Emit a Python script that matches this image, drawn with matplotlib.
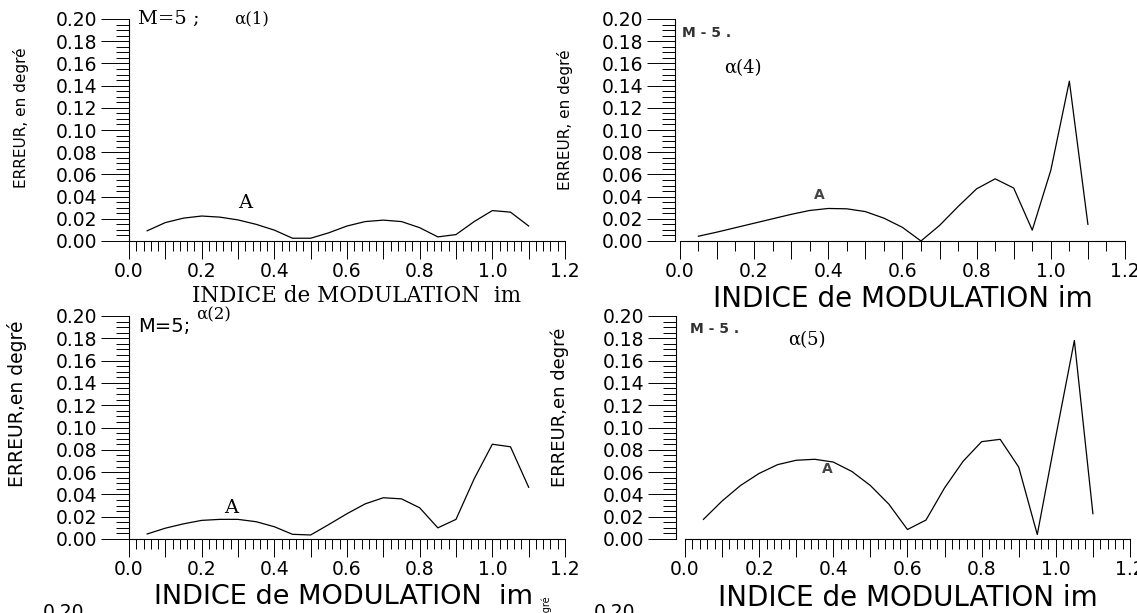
import matplotlib
matplotlib.use('Agg')
import matplotlib.pyplot as plt
from matplotlib.ticker import FixedLocator, MultipleLocator, FuncFormatter
import numpy as np

# indice de modulation (abscisses communes aux quatre courbes)
im = [0.05, 0.10, 0.15, 0.20, 0.25, 0.30, 0.35, 0.40, 0.45, 0.50, 0.55,
      0.60, 0.65, 0.70, 0.75, 0.80, 0.85, 0.90, 0.95, 1.00, 1.05, 1.10]

# erreur en degre pour chaque angle alpha(k), M=5
err_a1 = [0.0092, 0.0166, 0.0206, 0.0225, 0.0215, 0.0190, 0.0150, 0.0098, 0.0025, 0.0025, 0.0074,
          0.0135, 0.0175, 0.0188, 0.0175, 0.0120, 0.0037, 0.0058, 0.0175, 0.0274, 0.0260, 0.0135]
err_a4 = [0.0043, 0.0080, 0.0120, 0.0160, 0.0200, 0.0240, 0.0275, 0.0293, 0.0290, 0.0265, 0.0206,
          0.0123, 0.0000, 0.0140, 0.0310, 0.0470, 0.0560, 0.0477, 0.0098, 0.0637, 0.1440, 0.0150]
err_a2 = [0.0045, 0.0097, 0.0136, 0.0167, 0.0176, 0.0176, 0.0155, 0.0110, 0.0042, 0.0036, 0.0130,
          0.0227, 0.0315, 0.0370, 0.0360, 0.0280, 0.0100, 0.0176, 0.0540, 0.0850, 0.0827, 0.0464]
err_a5 = [0.0176, 0.0340, 0.0480, 0.0588, 0.0667, 0.0706, 0.0715, 0.0690, 0.0606, 0.0480, 0.0312,
          0.0085, 0.0170, 0.0458, 0.0697, 0.0873, 0.0894, 0.0645, 0.0040, 0.0920, 0.1780, 0.0227]

W, H = 1137, 613
fig = plt.figure(figsize=(W / 100, H / 100), dpi=100)


def rect(l, r, t, b):
    return [l / W, 1 - b / H, (r - l) / W, (b - t) / H]


def fx(x):
    return x / W


def fy(y):
    return 1 - y / H


def setup(ax, x0, minor_step):
    ax.set_xlim(x0, 1.2)
    ax.set_ylim(0, 0.2)
    ax.patch.set_visible(False)
    ax.spines['top'].set_visible(False)
    ax.spines['right'].set_visible(False)
    ax.spines['left'].set_bounds(0, 0.2)
    ax.spines['bottom'].set_bounds(0, 1.2)
    ax.spines['left'].set_linewidth(0.8)
    ax.spines['bottom'].set_linewidth(0.8)
    ax.xaxis.set_major_locator(FixedLocator(np.round(np.arange(0, 1.21, 0.1), 2)))
    ax.xaxis.set_minor_locator(FixedLocator(np.round(np.arange(0, 1.201, minor_step), 3)))
    ax.xaxis.set_major_formatter(FuncFormatter(
        lambda v, p: f'{v:.1f}' if round(v * 10) % 2 == 0 else ''))
    ax.yaxis.set_major_locator(MultipleLocator(0.02))
    ax.yaxis.set_minor_locator(MultipleLocator(0.005))
    ax.yaxis.set_major_formatter(FuncFormatter(lambda v, p: f'{v:.2f}'))
    ax.tick_params(axis='y', which='major', direction='out', length=20, width=0.7,
                   pad=3, labelsize=13.5)
    ax.tick_params(axis='y', which='minor', direction='out', length=9.5, width=0.7)
    ax.tick_params(axis='x', which='major', direction='out', length=13, width=0.7,
                   pad=2, labelsize=13.5)
    ax.tick_params(axis='x', which='minor', direction='out', length=7, width=0.7)


serif = 'DejaVu Serif'

# haut gauche : alpha(1)
ax1 = fig.add_axes(rect(129, 565, 19, 241))
setup(ax1, 0.0, 0.02)
ax1.plot(im, err_a1, color='black', lw=0.9)
ax1.text(0.025, 0.200, 'M=5 ;', family=serif, fontsize=14, va='center', ha='left')
ax1.text(0.289, 0.200, 'α(1)', family=serif, fontsize=12, va='center', ha='left')
ax1.text(0.319, 0.034, 'A', family=serif, fontsize=14, va='center', ha='center')
ax1.set_xlabel('INDICE de MODULATION  im', family=serif, fontsize=15.5)
ax1.xaxis.set_label_coords(0.626 / 1.2, -0.2)

# haut droite : alpha(4)
ax4 = fig.add_axes(rect(675, 1125, 19, 241))
setup(ax4, -0.013, 0.05)
ax4.plot(im, err_a4, color='black', lw=0.9)
ax4.text(0.005, 0.187, 'M - 5 .', fontsize=10, weight='bold', color='#333333',
         va='center', ha='left')
ax4.text(0.169, 0.156, 'α(4)', family=serif, fontsize=13, va='center', ha='center')
ax4.text(0.376, 0.041, 'A', fontsize=10, weight='bold', color='#444444',
         va='center', ha='center')
ax4.set_xlabel('INDICE de MODULATION im', fontsize=20)
ax4.xaxis.set_label_coords((0.6 + 0.013) / 1.213, -0.2)

# bas gauche : alpha(2)
ax2 = fig.add_axes(rect(129, 565, 316, 539))
setup(ax2, 0.0, 0.02)
ax2.plot(im, err_a2, color='black', lw=0.9)
ax2.text(0.025, 0.191, 'M=5;', fontsize=14, va='center', ha='left')
ax2.text(0.184, 0.201, 'α(2)', family=serif, fontsize=12, va='center', ha='left')
ax2.text(0.281, 0.028, 'A', family=serif, fontsize=14, va='center', ha='center')
ax2.set_xlabel('INDICE de MODULATION  im', fontsize=19.5)
ax2.xaxis.set_label_coords(0.59 / 1.2, -0.2)

# bas droite : alpha(5)
ax5 = fig.add_axes(rect(676, 1130, 316, 539))
setup(ax5, -0.024, 0.02)
ax5.plot(im, err_a5, color='black', lw=0.9)
ax5.text(0.015, 0.188, 'M - 5 .', fontsize=10, weight='bold', color='#333333',
         va='center', ha='left')
ax5.text(0.33, 0.178, 'α(5)', family=serif, fontsize=13, va='center', ha='center')
ax5.text(0.384, 0.063, 'A', fontsize=10, weight='bold', color='#444444',
         va='center', ha='center')
ax5.set_xlabel('INDICE de MODULATION im', fontsize=20)
ax5.xaxis.set_label_coords((0.6 + 0.024) / 1.224, -0.2)

# titres des ordonnees
fig.text(fx(21), fy(118), 'ERREUR, en degré', rotation=90, fontsize=11,
         ha='center', va='center')
fig.text(fx(565), fy(120), 'ERREUR, en degré', rotation=90, fontsize=11,
         ha='center', va='center')
fig.text(fx(17), fy(404), 'ERREUR,en degré', rotation=90, fontsize=13.5,
         ha='center', va='center')
fig.text(fx(560), fy(407), 'ERREUR,en degré', rotation=90, fontsize=13,
         ha='center', va='center')

# debut de la rangee suivante, coupee par le bord de la page
fig.text(fx(43), fy(603), '0.20', fontsize=13.5, ha='left', va='top')
fig.text(fx(594), fy(603), '0.20', fontsize=13.5, ha='left', va='top')
fig.text(fx(547), fy(596), 'ERREUR, en degré', rotation=90, fontsize=7,
         ha='center', va='top')

fig.savefig('out.png', dpi=100)
